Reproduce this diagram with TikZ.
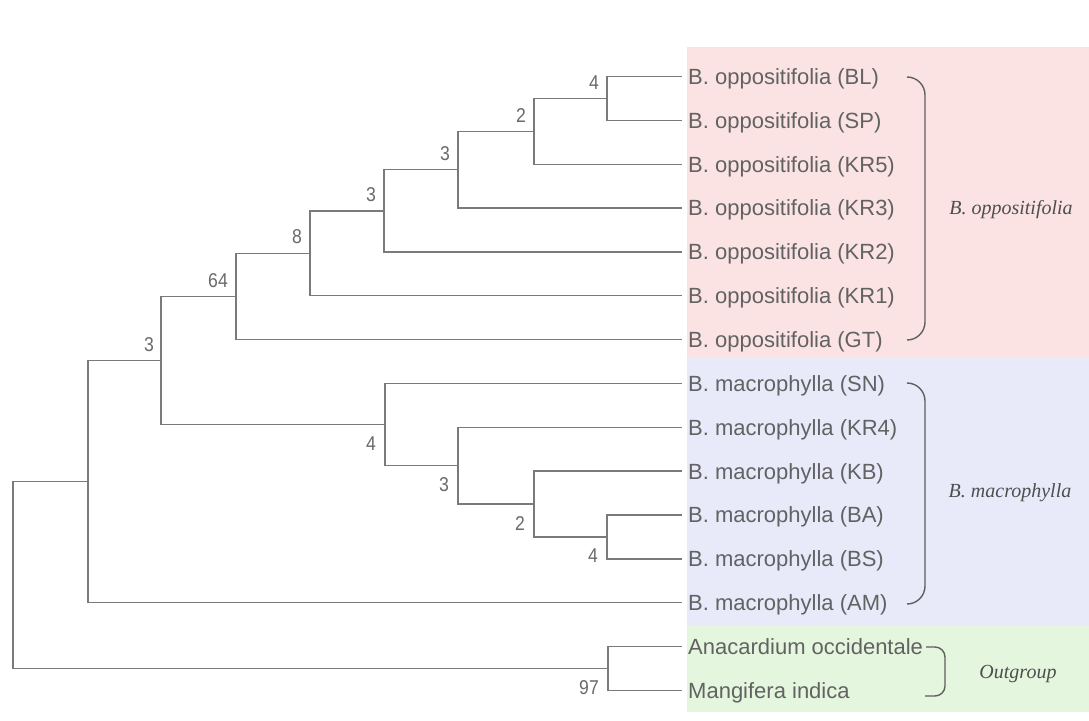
\documentclass[tikz,border=0pt]{standalone}
\usepackage{fontspec}
\setmainfont{Liberation Sans}
\newfontfamily\grpfont{Liberation Serif}
\newfontfamily\numfont[FakeStretch=0.88]{Liberation Sans}
\definecolor{pinkbg}{RGB}{251,227,227}
\definecolor{bluebg}{RGB}{232,234,250}
\definecolor{greenbg}{RGB}{228,246,222}
\definecolor{linegray}{RGB}{122,122,122}
\definecolor{taxgray}{RGB}{98,98,98}
\definecolor{numgray}{RGB}{105,105,105}
\definecolor{brgray}{RGB}{95,95,95}
\definecolor{grptext}{RGB}{78,78,78}
\begin{document}
\begin{tikzpicture}[x=1pt,y=-1pt,
  branch/.style={draw=linegray, line width=1.4pt},
  leaf/.style={anchor=west, inner xsep=6pt, inner ysep=0pt, text height=15.75pt, text depth=0pt,
               font=\fontsize{22}{24}\selectfont, text=taxgray},
  upnum/.style={anchor=south east, inner sep=0pt, font=\numfont\fontsize{20}{22}\selectfont, text=numgray},
  downnum/.style={anchor=north east, inner sep=0pt, font=\numfont\fontsize{20}{22}\selectfont, text=numgray},
  grp/.style={font=\grpfont\itshape\fontsize{20}{22}\selectfont, text=grptext},
  brk/.style={draw=brgray, line width=1.4pt}
]
\useasboundingbox (0,0) rectangle (1089,720);
% backgrounds
\fill[pinkbg] (687,47) rectangle (1089,357);
\fill[bluebg] (687,357) rectangle (1089,625);
\fill[greenbg] (687,625) rectangle (1089,712);

% leaves
\node[leaf] (bl)  at (682,76.5)  {B. oppositifolia (BL)};
\node[leaf] (sp)  at (682,120.35) {B. oppositifolia (SP)};
\node[leaf] (kr5) at (682,164.2) {B. oppositifolia (KR5)};
\node[leaf] (kr3) at (682,208.05) {B. oppositifolia (KR3)};
\node[leaf] (kr2) at (682,251.9) {B. oppositifolia (KR2)};
\node[leaf] (kr1) at (682,295.75) {B. oppositifolia (KR1)};
\node[leaf] (gt)  at (682,339.6) {B. oppositifolia (GT)};
\node[leaf] (sn)  at (682,383.45) {B. macrophylla (SN)};
\node[leaf] (kr4) at (682,427.3) {B. macrophylla (KR4)};
\node[leaf] (kb)  at (682,471.15) {B. macrophylla (KB)};
\node[leaf] (ba)  at (682,515) {B. macrophylla (BA)};
\node[leaf] (bs)  at (682,558.85) {B. macrophylla (BS)};
\node[leaf] (am)  at (682,602.7) {B. macrophylla (AM)};
\node[leaf] (ana) at (682,646.55) {Anacardium occidentale};
\node[leaf] (man) at (682,690.4) {Mangifera indica};

% internal nodes
\coordinate (n1) at (607,98.4);
\coordinate (n2) at (534,131.3);
\coordinate (n3) at (458,169.7);
\coordinate (n4) at (384,210.8);
\coordinate (n5) at (310,253.3);
\coordinate (n6) at (236,296.4);
\coordinate (m1) at (607,536.9);
\coordinate (m2) at (534,504);
\coordinate (m3) at (458,465.7);
\coordinate (m4) at (385,424.6);
\coordinate (c)  at (161,360.5);
\coordinate (d)  at (88,481.6);
\coordinate (o)  at (608,668.5);
\coordinate (r)  at (13,575);

% branches
\draw[branch] (n1) |- (bl.west);
\draw[branch] (n1) |- (sp.west);
\draw[branch] (n2) |- (n1);
\draw[branch] (n2) |- (kr5.west);
\draw[branch] (n3) |- (n2);
\draw[branch] (n3) |- (kr3.west);
\draw[branch] (n4) |- (n3);
\draw[branch] (n4) |- (kr2.west);
\draw[branch] (n5) |- (n4);
\draw[branch] (n5) |- (kr1.west);
\draw[branch] (n6) |- (n5);
\draw[branch] (n6) |- (gt.west);
\draw[branch] (m1) |- (ba.west);
\draw[branch] (m1) |- (bs.west);
\draw[branch] (m2) |- (kb.west);
\draw[branch] (m2) |- (m1);
\draw[branch] (m3) |- (kr4.west);
\draw[branch] (m3) |- (m2);
\draw[branch] (m4) |- (sn.west);
\draw[branch] (m4) |- (m3);
\draw[branch] (c) |- (n6);
\draw[branch] (c) |- (m4);
\draw[branch] (d) |- (c);
\draw[branch] (d) |- (am.west);
\draw[branch] (o) |- (ana.west);
\draw[branch] (o) |- (man.west);
\draw[branch] (r) |- (d);
\draw[branch] (r) |- (o);

% support values
\node[upnum] (s1) at ([xshift=-8pt,yshift=9pt]n1) {4};
\node[upnum] (s2) at ([xshift=-8pt,yshift=9pt]n2) {2};
\node[upnum] (s3) at ([xshift=-8pt,yshift=9pt]n3) {3};
\node[upnum] (s4) at ([xshift=-8pt,yshift=9pt]n4) {3};
\node[upnum] (s5) at ([xshift=-8pt,yshift=9pt]n5) {8};
\node[upnum] (s6) at ([xshift=-8pt,yshift=9pt]n6) {64};
\node[upnum] (s7) at ([xshift=-7pt,yshift=9pt]c) {3};
\node[downnum] (t1) at ([xshift=-9pt,yshift=-12pt]m4) {4};
\node[downnum] (t2) at ([xshift=-9pt,yshift=-12pt]m3) {3};
\node[downnum] (t3) at ([xshift=-9pt,yshift=-12pt]m2) {2};
\node[downnum] (t4) at ([xshift=-9pt,yshift=-12pt]m1) {4};
\node[downnum] (t5) at ([xshift=-9pt,yshift=-12pt]o) {97};

% brackets
\draw[brk, rounded corners=18pt] (907,77) -- (925,77) -- (925,340) -- (907,340);
\draw[brk, rounded corners=18pt] (907,383) -- (925,383) -- (925,604) -- (907,604);
\draw[brk, rounded corners=10pt] (926,647) -- (945,647) -- (945,696) -- (925,696);

% group labels
\node[grp] (g1) at (1011,210) {B. oppositifolia};
\node[grp] (g2) at (1010,493) {B. macrophylla};
\node[grp] (g3) at (1018,674) {Outgroup};
\end{tikzpicture}
\end{document}
